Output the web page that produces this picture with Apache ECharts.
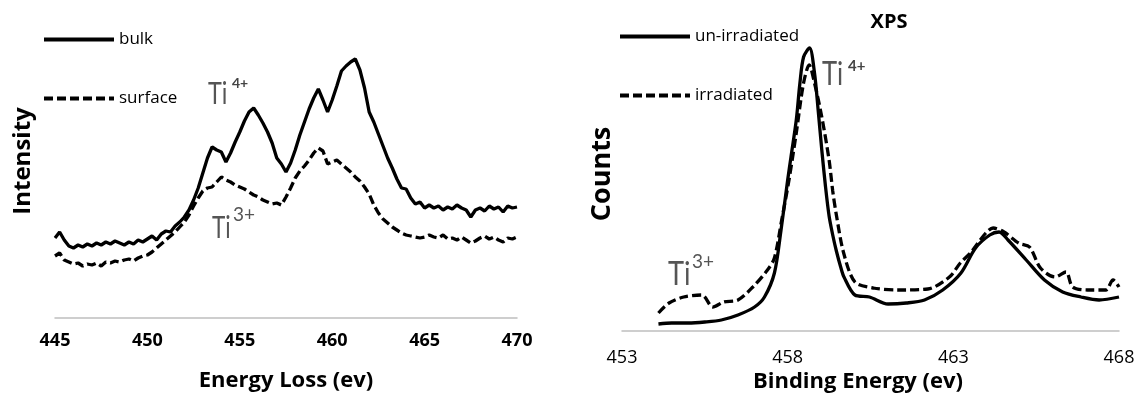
<!DOCTYPE html>
<html>
<head>
<meta charset="utf-8">
<script src="https://cdn.jsdelivr.net/npm/echarts@6/dist/echarts.min.js"></script>
<style>
html,body{margin:0;padding:0;background:#fff;}
#chart{width:1141px;height:398px;}
</style>
</head>
<body>
<div id="chart"></div>
<script>
// ---- Left panel (EELS) ----
const eelsEnergy = [445,445.25,445.5,445.75,446,446.25,446.5,446.75,447,447.25,447.5,447.75,448,448.25,448.5,448.75,449,449.25,449.5,449.75,450,450.25,450.5,450.75,451,451.25,451.5,451.75,452,452.25,452.5,452.75,453,453.25,453.5,453.75,454,454.25,454.5,454.75,455,455.25,455.5,455.75,456,456.25,456.5,456.75,457,457.25,457.5,457.75,458,458.25,458.5,458.75,459,459.25,459.5,459.75,460,460.25,460.5,460.75,461,461.25,461.5,461.75,462,462.25,462.5,462.75,463,463.25,463.5,463.75,464,464.25,464.5,464.75,465,465.25,465.5,465.75,466,466.25,466.5,466.75,467,467.25,467.5,467.75,468,468.25,468.5,468.75,469,469.25,469.5,469.75,470];
const bulk = [80,86,78,72,70,73,71,74,72,75,73,76,74,77,75,73,76,74,78,76,79,82,78,84,87,86,92,96,101,108,118,130,145,160,171,168,166,156,165,176,186,197,206,210,203,195,186,175,160,154,146,155,168,183,196,209,220,229,218,206,218,232,247,252,256,259,248,230,206,196,184,172,160,150,139,130,129,120,114,116,110,113,110,112,108,111,109,113,110,108,101,108,110,107,112,109,111,106,112,110,111];
const surface = [62,65,58,56,54,55,52,54,53,55,52,56,55,57,56,58,59,57,60,62,63,66,70,74,78,82,86,91,96,103,112,120,127,130,131,136,141,138,136,133,131,129,126,123,121,118,116,114,115,113,121,130,140,147,152,158,165,170,167,154,156,158,154,150,146,141,137,131,124,113,105,99,95,91,88,85,83,82,81,80,81,83,81,80,83,79,80,78,81,78,75,77,80,82,79,81,78,76,80,79,81];

// ---- Right panel (XPS) ----
const unIrrEnergy = [454.1,454.5,455,455.5,456,456.5,457,457.3,457.6,457.8,458.0,458.1,458.26,458.37,458.48,458.66,458.81,458.92,459.03,459.14,459.25,459.36,459.47,459.6,459.7,460.03,460.47,461.03,461.58,462.13,462.68,463.23,463.67,464.1,464.38,464.65,465.2,465.75,466.3,466.85,467.4,468];
const unIrrCounts = [7,8,8,9,11,16,24,34,58,101,151,174,211,248,274,283,258,221,181,145,115,96,80,64,54,36,34,27,28,31,41,58,83,96,99,91,71,51,39,34,31,34];
const irrEnergy = [454.1,454.42,454.86,455.41,455.74,456.07,456.5,456.95,457.39,457.6,457.82,458.04,458.26,458.48,458.65,458.81,459.03,459.25,459.36,459.47,459.69,460.03,460.58,461.35,462.23,462.88,463.21,463.54,463.98,464.2,464.53,464.97,465.3,465.63,466.07,466.4,466.6,467.05,467.6,467.82,468];
const irrCounts = [18,28,34,36,24,29,31,44,61,73,111,151,198,248,266,248,214,171,140,116,78,49,43,41,42,54,68,79,98,103,99,88,84,63,54,59,44,41,41,51,44];

function pairs(xs, ys){ return xs.map((x,i)=>[x, ys[i]]); }

const chart = echarts.init(document.getElementById('chart'));
const FONT = '"Open Sans", Lato, sans-serif';
const TIFONT = 'Lato, "Open Sans", sans-serif';
const axisGray = '#bfbfbf';

function hiddenY(idx){
  return { gridIndex: idx, type: 'value', min: 0, max: 300,
    axisLine: { show: false }, axisTick: { show: false }, axisLabel: { show: false }, splitLine: { show: false } };
}
function txt(x, y, text, font, fill, extra){
  return Object.assign({ type: 'text', x: x, y: y,
    style: { text: text, font: font, fill: fill, textAlign: 'left', textVerticalAlign: 'middle' } }, extra || {});
}

chart.setOption({
  animation: false,
  backgroundColor: '#ffffff',
  textStyle: { fontFamily: FONT },
  legend: [
    { data: ['bulk','surface'], orient: 'vertical', left: 42, top: 31, padding: 0,
      itemWidth: 70, itemHeight: 14, itemGap: 42,
      itemStyle: { opacity: 0 }, lineStyle: { width: 4 },
      textStyle: { fontFamily: FONT, fontSize: 17, color: '#000' } },
    { data: ['un-irradiated','irradiated'], orient: 'vertical', left: 618, top: 28, padding: 0,
      itemWidth: 70, itemHeight: 14, itemGap: 42,
      itemStyle: { opacity: 0 }, lineStyle: { width: 4 },
      textStyle: { fontFamily: FONT, fontSize: 17, color: '#000' } }
  ],
  grid: [
    { left: 55, width: 462, top: 18, height: 300 },
    { left: 622, width: 497, top: 31, height: 300 }
  ],
  xAxis: [
    { gridIndex: 0, type: 'value', min: 445, max: 470, interval: 5,
      axisLine: { lineStyle: { color: axisGray, width: 1.5 } },
      axisTick: { show: false }, splitLine: { show: false },
      axisLabel: { color: '#000', fontWeight: 'bold', fontSize: 18, fontFamily: FONT, margin: 14 },
      name: 'Energy Loss (ev)', nameLocation: 'middle', nameGap: 52,
      nameTextStyle: { color: '#000', fontWeight: 'bold', fontSize: 22, fontFamily: FONT } },
    { gridIndex: 1, type: 'value', min: 453, max: 468, interval: 5,
      axisLine: { lineStyle: { color: axisGray, width: 1.5 } },
      axisTick: { show: false }, splitLine: { show: false },
      axisLabel: { color: '#000', fontSize: 18, fontFamily: FONT, margin: 18 } }
  ],
  yAxis: [ hiddenY(0), hiddenY(1) ],
  graphic: [
    { type: 'text', x: 23, y: 161, rotation: Math.PI/2,
      style: { text: 'Intensity', font: 'bold 24px ' + FONT, fill: '#000', textAlign: 'center', textVerticalAlign: 'middle' } },
    { type: 'text', x: 602, y: 174, rotation: Math.PI/2,
      style: { text: 'Counts', font: 'bold 27px ' + FONT, fill: '#000', textAlign: 'center', textVerticalAlign: 'middle' } },
    { type: 'text', x: 858, y: 382,
      style: { text: 'Binding Energy (ev)', font: 'bold 22px ' + FONT, fill: '#000', textAlign: 'center', textVerticalAlign: 'middle' } },
    { type: 'text', x: 889, y: 22,
      style: { text: 'XPS', font: 'bold 20px ' + FONT, fill: '#000', textAlign: 'center', textVerticalAlign: 'middle' } },
    // annotations
    txt(208, 94, 'Ti', '30px ' + TIFONT, '#555', { scaleX: 0.78 }),
    txt(232, 83, '4+', 'bold 14px ' + TIFONT, '#444'),
    txt(212, 228, 'Ti', '30px ' + TIFONT, '#555', { scaleX: 0.75 }),
    txt(233, 215, '3+', '19px ' + TIFONT, '#555'),
    txt(822, 75, 'Ti', '32px ' + TIFONT, '#555', { scaleX: 0.8 }),
    txt(848, 66, '4+', 'bold 15px ' + TIFONT, '#444'),
    txt(668, 275, 'Ti', '32px ' + TIFONT, '#555', { scaleX: 0.85 }),
    txt(692, 262, '3+', '19px ' + TIFONT, '#555')
  ],
  series: [
    { name: 'bulk', type: 'line', xAxisIndex: 0, yAxisIndex: 0, data: pairs(eelsEnergy, bulk),
      symbol: 'none', lineStyle: { color: '#000', width: 3.3, type: 'solid' }, itemStyle: { color: '#000' } },
    { name: 'surface', type: 'line', xAxisIndex: 0, yAxisIndex: 0, data: pairs(eelsEnergy, surface),
      symbol: 'none', lineStyle: { color: '#000', width: 3.3, type: [9, 4] }, itemStyle: { color: '#000' } },
    { name: 'un-irradiated', type: 'line', xAxisIndex: 1, yAxisIndex: 1, data: pairs(unIrrEnergy, unIrrCounts),
      symbol: 'none', smooth: 0.3, lineStyle: { color: '#000', width: 3.3, type: 'solid' }, itemStyle: { color: '#000' } },
    { name: 'irradiated', type: 'line', xAxisIndex: 1, yAxisIndex: 1, data: pairs(irrEnergy, irrCounts),
      symbol: 'none', smooth: 0.3, lineStyle: { color: '#000', width: 3.3, type: [9, 4] }, itemStyle: { color: '#000' } }
  ]
});
</script>
</body>
</html>
